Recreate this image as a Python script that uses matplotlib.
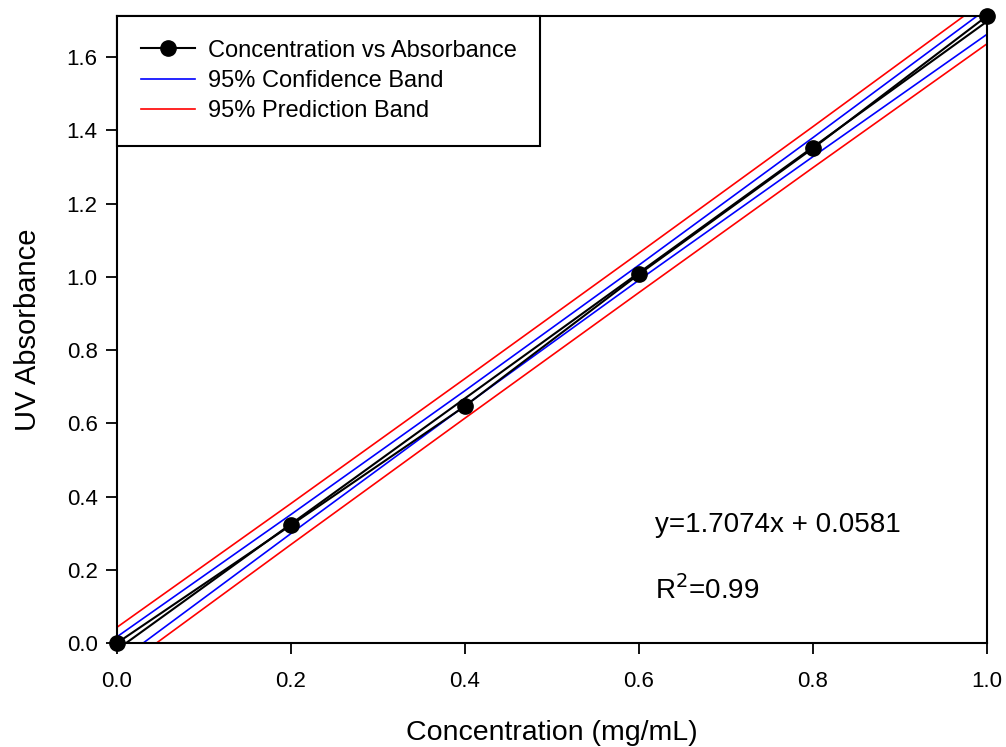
import matplotlib as mpl
mpl.use('Agg')
import matplotlib.pyplot as plt

plt.rcParams['font.family'] = ['Liberation Sans', 'DejaVu Sans']

# measured points
conc = [0.0, 0.2, 0.4, 0.6, 0.8, 1.0]
absorb = [0.0, 0.322, 0.647, 1.007, 1.351, 1.712]

# regression line and bands
band_x = [0.0, 0.2, 0.4, 0.6, 0.8, 1.0]
fit_y = [-0.018, 0.325, 0.668, 1.011, 1.354, 1.697]
conf_hi = [0.017, 0.351, 0.689, 1.032, 1.380, 1.732]
conf_lo = [-0.053, 0.299, 0.648, 0.991, 1.328, 1.662]
pred_hi = [0.043, 0.381, 0.722, 1.065, 1.410, 1.758]
pred_lo = [-0.079, 0.269, 0.614, 0.957, 1.298, 1.636]

x_ticks = [0.0, 0.2, 0.4, 0.6, 0.8, 1.0]
y_ticks = [0.0, 0.2, 0.4, 0.6, 0.8, 1.0, 1.2, 1.4, 1.6]

fig = plt.figure(figsize=(10.06, 7.47), dpi=100)
ax = fig.add_axes([0.1163, 0.1392, 0.8648, 0.8394])

ax.plot(band_x, pred_hi, color='red', lw=1.2)
ax.plot(band_x, pred_lo, color='red', lw=1.2)
ax.plot(band_x, conf_hi, color='blue', lw=1.2)
ax.plot(band_x, conf_lo, color='blue', lw=1.2)
ax.plot(band_x, fit_y, color='black', lw=1.5)
ax.plot(conc, absorb, color='black', lw=1.5, marker='o', ms=11, clip_on=False, zorder=5)

ax.set_xlim(0, 1.0)
ax.set_ylim(0, 1.712)
ax.set_xticks(x_ticks)
ax.set_yticks(y_ticks)
ax.set_xticklabels(['%.1f' % v for v in x_ticks])
ax.set_yticklabels(['%.1f' % v for v in y_ticks])
ax.tick_params(direction='out', length=8, width=1.3, labelsize=16, pad=6)
ax.tick_params(axis='x', pad=12)
for s in ax.spines.values():
    s.set_linewidth(1.5)

ax.set_xlabel('Concentration (mg/mL)', fontsize=20.5, labelpad=20)
ax.set_ylabel('UV Absorbance', fontsize=21, labelpad=18)

h = [plt.Line2D([], [], color='black', lw=1.5, marker='o', ms=11),
     plt.Line2D([], [], color='blue', lw=1.2),
     plt.Line2D([], [], color='red', lw=1.2)]
leg = ax.legend(h, ['Concentration vs Absorbance', '95% Confidence Band', '95% Prediction Band'],
                loc='upper left', borderaxespad=0, fontsize=17, fancybox=False,
                framealpha=1, edgecolor='black', handlelength=2.3, handletextpad=0.55,
                labelspacing=0.35, borderpad=1.0)
leg.get_frame().set_linewidth(1.5)

ax.text(0.618, 0.322, 'y=1.7074x + 0.0581', fontsize=20, va='center')
ax.text(0.618, 0.145, 'R$^2$=0.99', fontsize=20, va='center')

fig.savefig('out.png', dpi=100)
